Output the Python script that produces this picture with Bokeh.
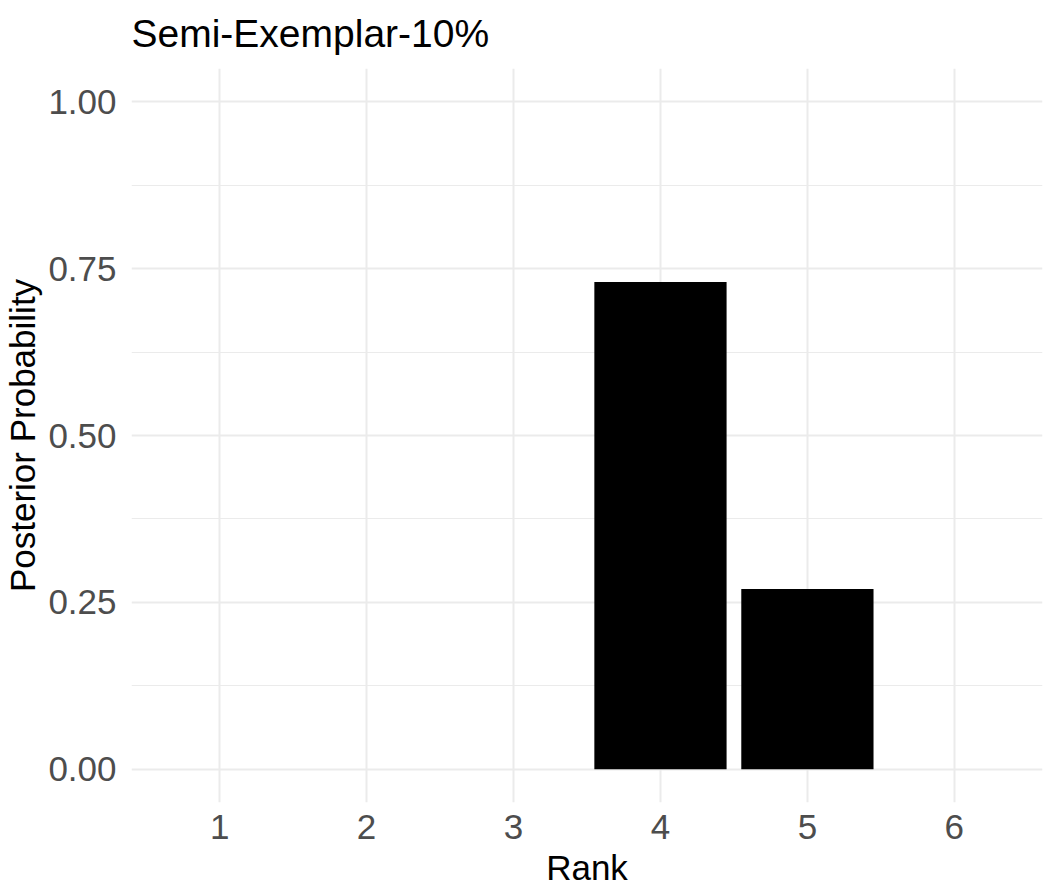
from bokeh.plotting import figure
from bokeh.models import Range1d, FixedTicker
from bokeh.embed import file_html
from bokeh.resources import INLINE

# Data
ranks = [1, 2, 3, 4, 5, 6]
probs = [0.0, 0.0, 0.0, 0.73, 0.27, 0.0]
y_ticks = [0.0, 0.25, 0.5, 0.75, 1.0]
y_minor = [0.125, 0.375, 0.625, 0.875]
y_tick_labels = {0.0: "0.00", 0.25: "0.25", 0.5: "0.50", 0.75: "0.75", 1.0: "1.00"}
title_text = "Semi-Exemplar-10%"
x_title = "Rank"
y_title = "Posterior Probability"

FONT = "Liberation Sans"
GRID = "#EBEBEB"

p = figure(
    frame_width=911, frame_height=734,
    x_range=Range1d(0.4, 6.6), y_range=Range1d(-0.05, 1.05),
    output_backend="svg", toolbar_location=None,
    min_border_left=130, min_border_right=6, min_border_top=60, min_border_bottom=80,
    title=title_text,
)
p.outline_line_color = None
p.background_fill_color = "white"
p.border_fill_color = "white"

p.title.text_font = FONT
p.title.text_font_size = "39px"
p.title.text_font_style = "normal"
p.title.text_color = "black"
p.title.align = "left"
p.title.vertical_align = "top"
p.title.standoff = 23

p.vbar(x=ranks, top=probs, width=0.9, bottom=0, fill_color="black", line_color=None)

# axes
p.xaxis.ticker = FixedTicker(ticks=ranks)
p.yaxis.ticker = FixedTicker(ticks=y_ticks, minor_ticks=y_minor)
p.yaxis.major_label_overrides = y_tick_labels
for ax in (p.xaxis, p.yaxis):
    ax.axis_line_color = None
    ax.major_tick_line_color = None
    ax.minor_tick_line_color = None
    ax.major_tick_out = 0
    ax.major_tick_in = 0
    ax.minor_tick_out = 0
    ax.minor_tick_in = 0
    ax.major_label_text_font = FONT
    ax.major_label_text_font_size = "35px"
    ax.major_label_text_color = "#4D4D4D"
    ax.axis_label_text_font = FONT
    ax.axis_label_text_font_size = "35px"
    ax.axis_label_text_font_style = "normal"
    ax.axis_label_text_color = "black"

p.xaxis.axis_label = x_title
p.yaxis.axis_label = y_title
p.xaxis.major_label_standoff = 12
p.xaxis.axis_label_standoff = 6
p.yaxis.major_label_standoff = 15
p.yaxis.axis_label_standoff = 3

# grid
p.xgrid.grid_line_color = GRID
p.xgrid.grid_line_width = 2
p.ygrid.grid_line_color = GRID
p.ygrid.grid_line_width = 2
p.ygrid.minor_grid_line_color = GRID
p.ygrid.minor_grid_line_width = 1.2

open("out.html", "w").write(file_html(p, INLINE))
